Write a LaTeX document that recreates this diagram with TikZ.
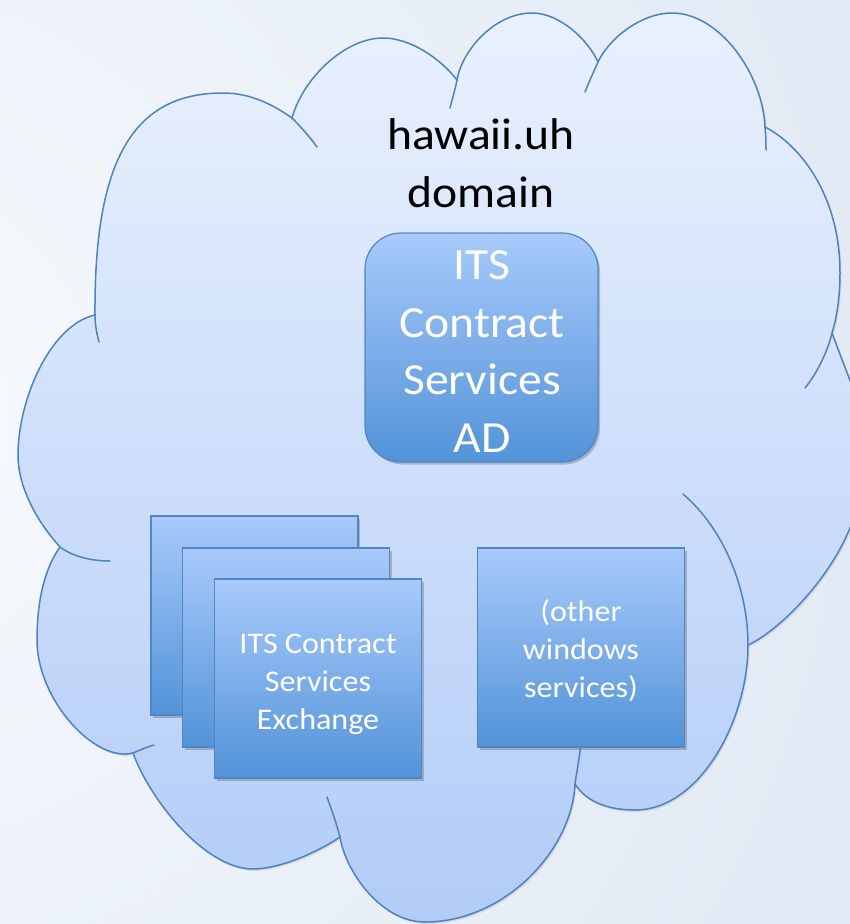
\documentclass[tikz,border=0pt]{standalone}
\usepackage{fontspec}
\newfontfamily\cali[FakeStretch=1.07]{Carlito}
\usetikzlibrary{shadows}
\definecolor{bgin}{HTML}{F8FAFD}
\definecolor{bgout}{HTML}{C6D7EB}
\definecolor{cloudtop}{HTML}{E9F1FD}
\definecolor{cloudbot}{HTML}{B2CCF8}
\definecolor{edge}{HTML}{4F81BD}
\definecolor{boxtop}{HTML}{A8CAFB}
\definecolor{boxbot}{HTML}{5293D8}
\definecolor{boxedge}{HTML}{5485C3}
\tikzset{
  cloudline/.style={draw=edge, line width=1.5pt, line join=round},
  tailline/.style={draw=edge, line width=1.5pt, line cap=round},
  boxshadow/.style={drop shadow={shadow xshift=2pt, shadow yshift=-2.5pt, opacity=0.3, fill=black!70}},
  srvbox/.style={draw=boxedge, line width=1.2pt, top color=boxtop, bottom color=boxbot,
    minimum width=207pt, minimum height=199pt, inner sep=0pt, outer sep=0pt, boxshadow},
  srvtext/.style={text=white, align=center, font=\cali\fontsize{30}{37.6}\selectfont, anchor=base, inner sep=0pt},
  bigtext/.style={align=center, font=\cali\fontsize{44.5}{57.5}\selectfont, anchor=base, inner sep=0pt},
}
\begin{document}
\begin{tikzpicture}[x=1pt, y=-1pt]
\useasboundingbox (0,0) rectangle (850,924);
\clip (0,0) rectangle (850,924);
% background
\shade[inner color=bgin, outer color=bgout] (-150,420) circle[radius=2300pt];
% cloud body
\path[cloudline, top color=cloudtop, bottom color=cloudbot,
      drop shadow={shadow xshift=1.5pt, shadow yshift=-2pt, opacity=0.15, fill=black!60}]
  (95,315) .. controls (94,160) and (133,93) .. (223,93)
  .. controls (250,93) and (272,104) .. (292,118)
  .. controls (303,78) and (345,38) .. (383,38)
  .. controls (410,38) and (440,58) .. (457,80)
  .. controls (462,50) and (495,13) .. (532,13)
  .. controls (560,13) and (588,40) .. (598,62)
  .. controls (608,40) and (640,13) .. (672,13)
  .. controls (720,13) and (763,75) .. (765,127)
  .. controls (800,145) and (840,195) .. (840,273)
  .. controls (840,300) and (836,320) .. (832,333)
  .. controls (842,360) and (852,385) .. (865,420)
  -- (875,470) -- (858,500)
  .. controls (848,560) and (785,628) .. (748,645)
  .. controls (748,720) and (700,810) .. (635,810)
  .. controls (605,810) and (585,800) .. (575,784)
  .. controls (572,850) and (505,922) .. (425,922)
  .. controls (380,922) and (345,870) .. (340,837)
  .. controls (318,852) and (280,869) .. (253,869)
  .. controls (205,869) and (150,800) .. (133,753)
  .. controls (95,763) and (37,700) .. (37,640)
  .. controls (37,595) and (47,565) .. (60,547)
  .. controls (40,525) and (18,490) .. (18,455)
  .. controls (18,400) and (50,325) .. (95,315)
  -- cycle;
% inner tails of the lobes
\draw[tailline] (95,315) .. controls (95,325) and (97,335) .. (99,342);
\draw[tailline] (292,118) .. controls (300,126) and (310,137) .. (317,147);
\draw[tailline] (457,80) .. controls (455,90) and (452,100) .. (450,108);
\draw[tailline] (598,62) .. controls (594,71) and (589,82) .. (585,92);
\draw[tailline] (765,127) .. controls (766,137) and (766,145) .. (766,150);
\draw[tailline] (832,333) .. controls (828,350) and (818,372) .. (805,388);
\draw[tailline] (748,645) .. controls (748,590) and (725,530) .. (683,494);
\draw[tailline] (575,784) .. controls (577,770) and (580,755) .. (582,735);
\draw[tailline] (340,837) .. controls (336,822) and (331,808) .. (327,797);
\draw[tailline] (133,753) .. controls (140,750) and (147,747) .. (154,745);
\draw[tailline] (60,547) .. controls (72,556) and (90,561) .. (110,561);
% title
\node[bigtext] (title) at (481,207) {hawaii.uh\\domain};
% AD box
\node[srvbox, rounded corners=36pt, minimum width=233pt, minimum height=229pt] (ad) at (481.5,347.5) {};
\node[bigtext, text=white] (adtext) at (482,452) {ITS\\Contract\\Services\\AD};
% exchange stack
\node[srvbox] (exa) at (254.5,615.5) {};
\node[srvbox] (exb) at (286,647.5) {};
\node[srvbox] (exc) at (318,678.5) {};
\node[srvtext] (exctext) at (318,729) {ITS Contract\\Services\\Exchange};
% other services
\node[srvbox] (oth) at (581,647.5) {};
\node[srvtext] (othtext) at (581,697) {(other\\windows\\services)};
\end{tikzpicture}
\end{document}
